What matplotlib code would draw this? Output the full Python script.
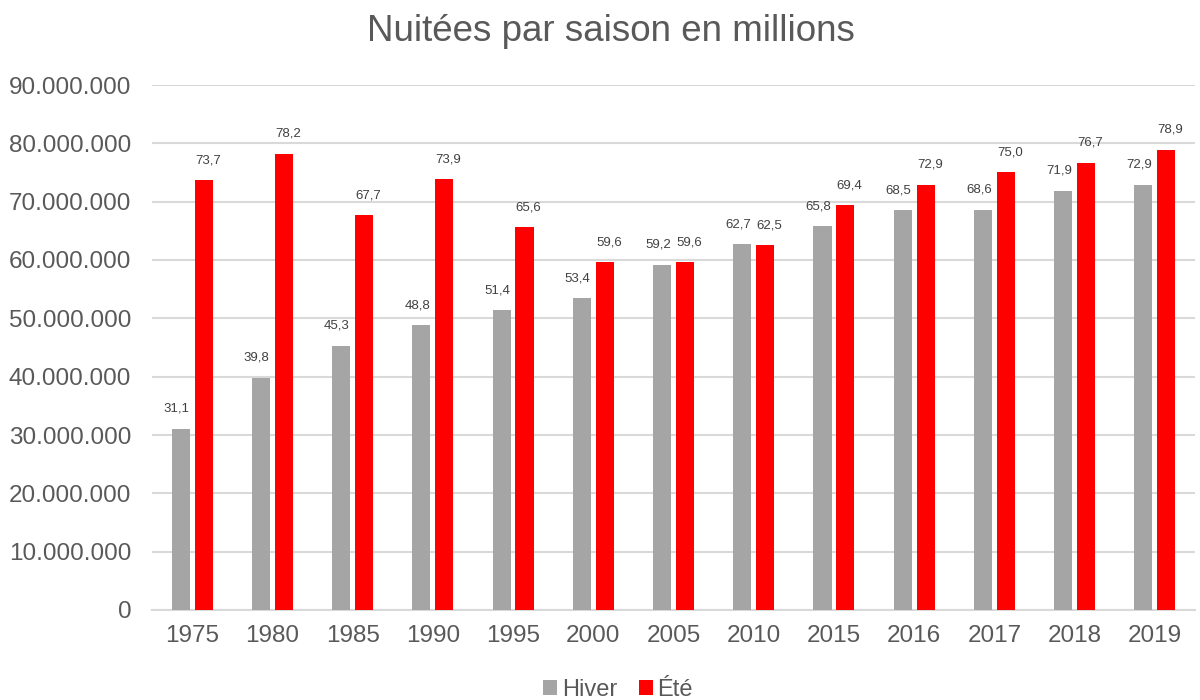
import numpy as np
import matplotlib
matplotlib.use("Agg")
import matplotlib.pyplot as plt
from matplotlib.ticker import FuncFormatter

plt.rcParams['font.family'] = ['Liberation Sans', 'DejaVu Sans']

annees = ["1975", "1980", "1985", "1990", "1995", "2000", "2005",
          "2010", "2015", "2016", "2017", "2018", "2019"]
hiver = [31.1, 39.8, 45.3, 48.8, 51.4, 53.4, 59.2, 62.7, 65.8, 68.5, 68.6, 71.9, 72.9]
ete = [73.7, 78.2, 67.7, 73.9, 65.6, 59.6, 59.6, 62.5, 69.4, 72.9, 75.0, 76.7, 78.9]

gris = "#A5A5A5"
rouge = "#FF0000"
texte = "#595959"

fig = plt.figure(figsize=(12, 7), dpi=100)
ax = fig.add_axes([152/1200, 90/700, 1043/1200, 525/700])

x = np.arange(len(annees))
w = 0.225
dx = 0.143
hv = np.array(hiver) * 1e6
et = np.array(ete) * 1e6
ax.bar(x - dx, hv, w, color=gris, label="Hiver", zorder=3)
ax.bar(x + dx, et, w, color=rouge, label="Été", zorder=3)

# etiquettes en millions, legerement ecartees comme dans Excel
for xi, v in zip(x, hiver):
    ax.annotate(f"{v:.1f}".replace(".", ","), (xi - dx, v * 1e6), xytext=(-3, 10),
                textcoords="offset points", ha="center", va="bottom",
                fontsize=9.5, color="#404040")
for xi, v in zip(x, ete):
    ax.annotate(f"{v:.1f}".replace(".", ","), (xi + dx, v * 1e6), xytext=(3, 10),
                textcoords="offset points", ha="center", va="bottom",
                fontsize=9.5, color="#404040")

ax.set_xlim(-0.5, len(annees) - 0.5)
ax.set_ylim(0, 90e6)
ax.set_yticks(np.arange(0, 90e6 + 1, 10e6))
ax.yaxis.set_major_formatter(FuncFormatter(lambda v, p: f"{int(v):,}".replace(",", ".")))
ax.set_xticks(x)
ax.set_xticklabels(annees)
ax.tick_params(axis="both", length=0, labelsize=17.5, colors=texte)
ax.tick_params(axis="x", pad=11)
ax.tick_params(axis="y", pad=15)
ax.grid(axis="y", color="#D9D9D9", linewidth=1.5, zorder=0)
for s in ["top", "right", "left"]:
    ax.spines[s].set_visible(False)
ax.spines["bottom"].set_color("#D9D9D9")
ax.spines["bottom"].set_linewidth(1.5)

fig.suptitle("Nuitées par saison en millions", fontsize=26.5, color=texte, x=0.509, y=0.98)
fig.legend(loc="lower center", bbox_to_anchor=(0.515, -0.032), ncol=2, frameon=False,
           fontsize=17, labelcolor=texte, handlelength=0.6, handleheight=0.6,
           handletextpad=0.2, columnspacing=0.9)

fig.savefig("out.png", dpi=100)
